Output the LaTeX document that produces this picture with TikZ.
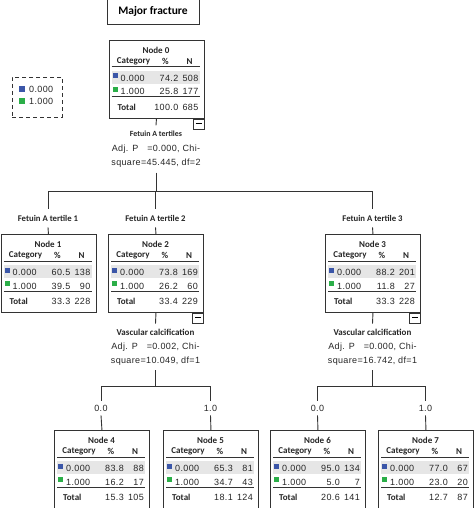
\documentclass[tikz,border=0pt]{standalone}
\usepackage{fontspec}
\setmainfont[LetterSpace=4]{Liberation Sans}
\newfontfamily\lblfont{Carlito}
\definecolor{spssblue}{HTML}{3B56A8}
\definecolor{spssgreen}{HTML}{2BAE48}
\definecolor{rowgray}{HTML}{E6E6E6}
\definecolor{linegray}{HTML}{333333}
\tikzset{
  nodebox/.style={draw=linegray, line width=0.9pt, minimum width=95pt, minimum height=78pt, inner sep=0pt, anchor=north west},
  hdr/.style={font=\lblfont\bfseries\fontsize{9}{10}\selectfont, inner sep=0pt, text=black!85},
  val/.style={font=\fontsize{9}{10}\selectfont, inner sep=0pt, text=black!85},
  rulestyle/.style={draw=linegray, line width=1pt},
  conn/.style={draw=linegray, line width=0.9pt},
  minusbox/.style={draw=linegray, line width=0.8pt, minimum width=11pt, minimum height=10pt, inner sep=0pt, anchor=north east, fill=white},
  splitlbl/.style={align=center, inner xsep=0pt, inner ysep=5pt, font=\fontsize{9}{14}\selectfont, text=black!85},
  brlbl/.style={inner xsep=0pt, inner ysep=6pt, font=\lblfont\bfseries\fontsize{8.7}{10}\selectfont, text=black!85},
  vallbl/.style={inner xsep=0pt, inner ysep=4pt, font=\fontsize{9}{10}\selectfont, text=black!85},
}
% #1 node number, #2 x, #3 y (top left), #4 %0, #5 n0, #6 %1, #7 n1, #8 %tot, #9 ntot
\newcommand\tnode[9]{%
  \fill[rowgray] ({#2+3},{#3+31}) rectangle ({#2+91},{#3+44});
  \node[nodebox] (n#1) at (#2,#3) {};
  \node[hdr] (n#1t) at ({#2+47.5},{#3+10}) {Node #1};
  \node[hdr] (n#1c) at ({#2+25},{#3+21.5}) {Category};
  \node[hdr] (n#1p) at ({#2+57},{#3+21.5}) {\%};
  \node[hdr] (n#1n) at ({#2+81},{#3+21.5}) {N};
  \draw[rulestyle] ({#2+3},{#3+27}) -- ({#2+91},{#3+27});
  \fill[spssblue] ({#2+4},{#3+33.5}) rectangle ({#2+9},{#3+38.5});
  \node[val,anchor=base west] (n#1a) at ({#2+12},{#3+41.5}) {0.000};
  \node[val,anchor=base east] (n#1b) at ({#2+70},{#3+41.5}) {#4};
  \node[val,anchor=base east] (n#1d) at ({#2+90},{#3+41.5}) {#5};
  \fill[spssgreen] ({#2+4},{#3+47}) rectangle ({#2+9},{#3+52});
  \node[val,anchor=base west] (n#1e) at ({#2+12},{#3+55}) {1.000};
  \node[val,anchor=base east] (n#1f) at ({#2+70},{#3+55}) {#6};
  \node[val,anchor=base east] (n#1g) at ({#2+90},{#3+55}) {#7};
  \draw[rulestyle] ({#2+3},{#3+57}) -- ({#2+91},{#3+57});
  \node[hdr,anchor=base west] (n#1h) at ({#2+9},{#3+70.5}) {Total};
  \node[val,anchor=base east] (n#1i) at ({#2+70},{#3+70.5}) {#8};
  \node[val,anchor=base east] (n#1j) at ({#2+90},{#3+70.5}) {#9};
}
\newcommand\minusmark[1]{%
  \node[minusbox] (m#1) at (n#1.south east) {\rule[2pt]{6pt}{0.9pt}};
}
\begin{document}
\begin{tikzpicture}[x=1pt,y=-1pt]
\clip (0,0) rectangle (474,508);
\fill[white] (0,0) rectangle (474,508);

% title
\node[draw=linegray, line width=0.9pt, minimum width=92pt, minimum height=26pt, inner sep=0pt,
      font=\lblfont\bfseries\fontsize{11.5}{13}\selectfont] (title) at (153,11) {Major fracture};

% legend
\node[draw=linegray, line width=0.9pt, dash pattern=on 4pt off 3pt, minimum width=50pt, minimum height=40pt] (legend) at (37,97) {};
\fill[spssblue] (19,86.5) rectangle (25,92.5);
\node[val,anchor=base west] (lg0) at (29,93) {0.000};
\fill[spssgreen] (19,98.5) rectangle (25,104.5);
\node[val,anchor=base west] (lg1) at (29,105) {1.000};

% nodes
\tnode{0}{108.5}{40}{74.2}{508}{25.8}{177}{100.0}{685}
\tnode{1}{0.5}{234}{60.5}{138}{39.5}{90}{33.3}{228}
\tnode{2}{108}{234}{73.8}{169}{26.2}{60}{33.4}{229}
\tnode{3}{325}{234}{88.2}{201}{11.8}{27}{33.3}{228}
\tnode{4}{54}{430}{83.8}{88}{16.2}{17}{15.3}{105}
\tnode{5}{163}{430}{65.3}{81}{34.7}{43}{18.1}{124}
\tnode{6}{270}{430}{95.0}{134}{5.0}{7}{20.6}{141}
\tnode{7}{378}{430}{77.0}{67}{23.0}{20}{12.7}{87}
\minusmark{0}
\minusmark{2}
\minusmark{3}

% split 0
\node[splitlbl] (s0) at (156,149)
  {{\lblfont\bfseries\fontsize{7.9}{14}\selectfont Fetuin A tertiles}\\[1.5pt]
   Adj. P\quad =0.000, Chi-\\ square=45.445, df=2};
\draw[conn] (n0.south) -- (s0.north);
\coordinate (b0) at (156,191);
\draw[conn] (s0.south) -- (b0);
\node[brlbl] (t1) at (48,218) {Fetuin A tertile 1};
\node[brlbl] (t2) at (155.5,218) {Fetuin A tertile 2};
\node[brlbl] (t3) at (372.5,218) {Fetuin A tertile 3};
\draw[conn] (t1 |- b0) -- (t3 |- b0);
\draw[conn] (t1 |- b0) -- (t1.north);
\draw[conn] (t2 |- b0) -- (t2.north);
\draw[conn] (t3 |- b0) -- (t3.north);
\draw[conn] (t1.south) -- (n1.north);
\draw[conn] (t2.south) -- (n2.north);
\draw[conn] (t3.south) -- (n3.north);

% split 2
\node[splitlbl] (s2) at (155.5,347)
  {{\lblfont\bfseries\fontsize{9}{14}\selectfont Vascular calcification}\\
   Adj. P\quad =0.002, Chi-\\ square=10.049, df=1};
\draw[conn] (n2.south) -- (s2.north);
\coordinate (b2) at (155.5,386);
\draw[conn] (s2.south) -- (b2);
\node[vallbl] (t4) at (101,408) {0.0};
\node[vallbl] (t5) at (210.5,408) {1.0};
\draw[conn] (t4 |- b2) -- (t5 |- b2);
\draw[conn] (t4 |- b2) -- (t4.north);
\draw[conn] (t5 |- b2) -- (t5.north);
\draw[conn] (t4.south) -- (n4.north);
\draw[conn] (t5.south) -- (n5.north);

% split 3
\node[splitlbl] (s3) at (372.5,347)
  {{\lblfont\bfseries\fontsize{9}{14}\selectfont Vascular calcification}\\
   Adj. P\quad =0.000, Chi-\\ square=16.742, df=1};
\draw[conn] (n3.south) -- (s3.north);
\coordinate (b3) at (372.5,386);
\draw[conn] (s3.south) -- (b3);
\node[vallbl] (t6) at (317.5,408) {0.0};
\node[vallbl] (t7) at (425.5,408) {1.0};
\draw[conn] (t6 |- b3) -- (t7 |- b3);
\draw[conn] (t6 |- b3) -- (t6.north);
\draw[conn] (t7 |- b3) -- (t7.north);
\draw[conn] (t6.south) -- (n6.north);
\draw[conn] (t7.south) -- (n7.north);
\end{tikzpicture}
\end{document}
